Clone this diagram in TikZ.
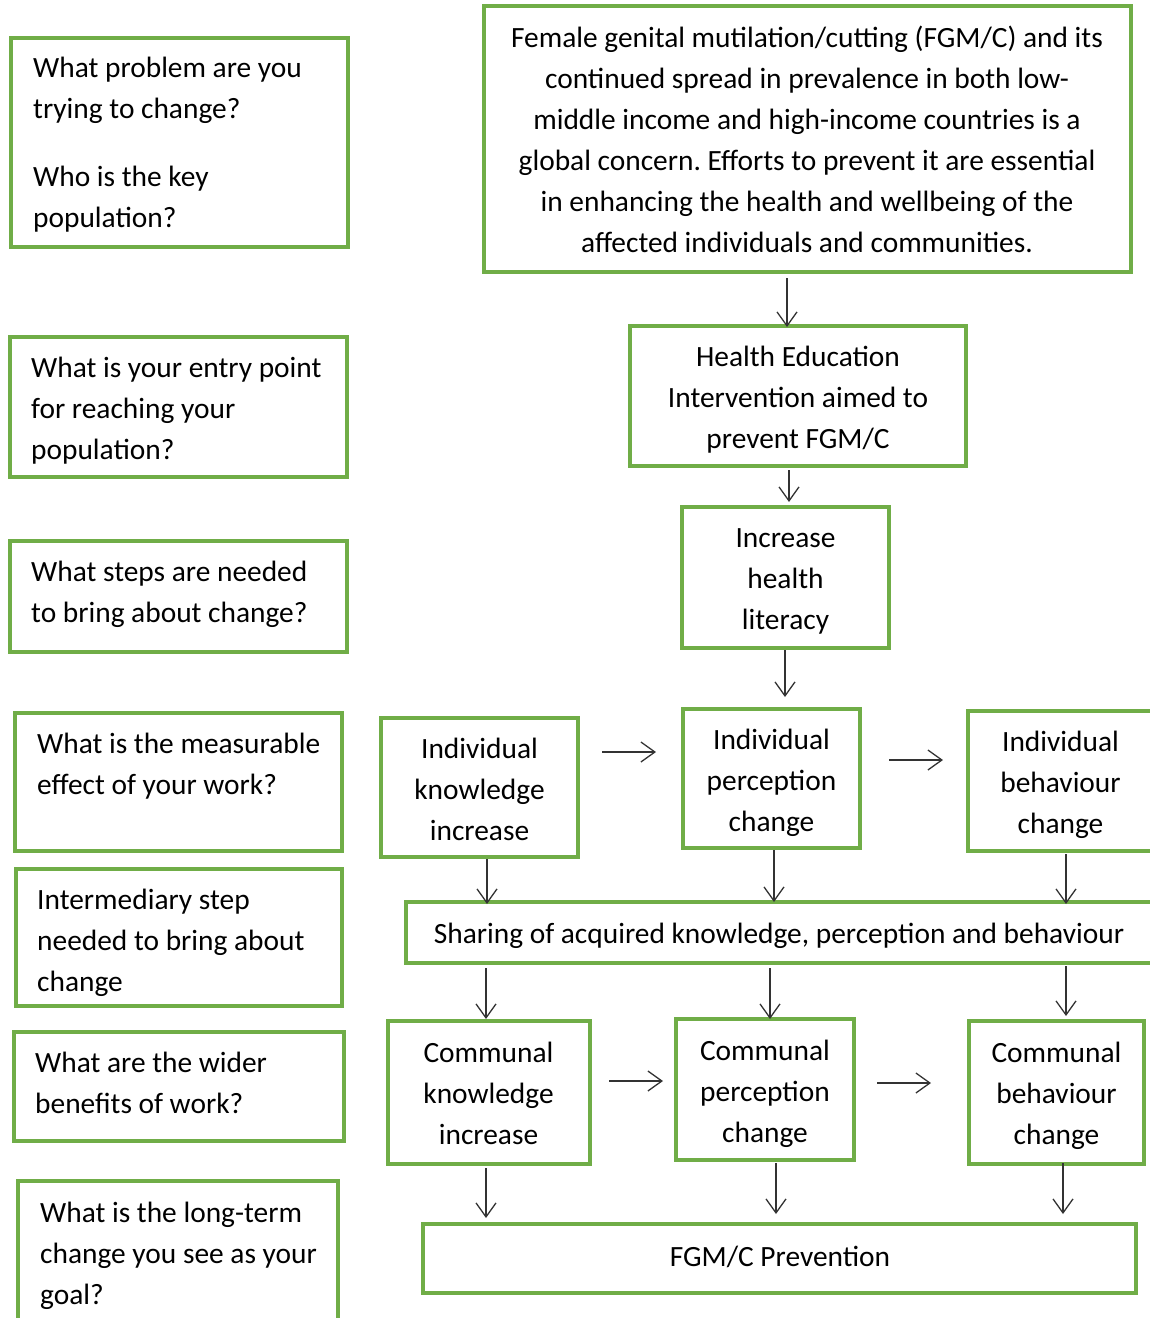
\documentclass[tikz,border=0pt]{standalone}
\usepackage{fontspec}
\setmainfont{Carlito}
\usetikzlibrary{arrows.meta}
\definecolor{fgreen}{HTML}{70AD47}
\newcommand\mainfnt{\fontsize{29.4}{41}\selectfont}
\frenchspacing
\begin{document}
\begin{tikzpicture}[x=1pt,y=-1pt,
  box/.style={draw=fgreen,line width=3.6pt,inner sep=0pt},
  btext/.style={inner sep=0pt,align=center,font=\mainfnt},
  qtext/.style={inner sep=0pt,align=left,anchor=west,font=\mainfnt},
  arr/.style={draw=black!80,line width=1.3pt,-{Straight Barb[length=14pt,width=20pt]}}]
\useasboundingbox (0,0) rectangle (1150,1318);
\clip (0,0) rectangle (1150,1318);
% left question boxes
\node[box,minimum width=337,minimum height=209] (q1) at (179.5,142.5) {};
\node[qtext] (q1t) at (33,145) {What problem are you\\trying to change?\\[27pt]Who is the key\\population?};
\node[box,minimum width=337,minimum height=140] (q2) at (178.5,407) {};
\node[qtext] (q2t) at (31,411) {What is your entry point\\for reaching your\\population?};
\node[box,minimum width=337,minimum height=111] (q3) at (178.5,596.5) {};
\node[qtext] (q3t) at (31,594.5) {What steps are needed\\to bring about change?};
\node[box,minimum width=327,minimum height=138] (q4) at (178.5,782) {};
\node[qtext] (q4t) at (37,766.5) {What is the measurable\\effect of your work?};
\node[box,minimum width=326,minimum height=137] (q5) at (179,937.5) {};
\node[qtext] (q5t) at (37,942.5) {Intermediary step\\needed to bring about\\change};
\node[box,minimum width=330,minimum height=109] (q6) at (179,1086.5) {};
\node[qtext] (q6t) at (35,1082.5) {What are the wider\\benefits of work?};
\node[box,minimum width=320,minimum height=142] (q7) at (178,1252) {};
\node[qtext] (q7t) at (40,1255.5) {What is the long-term\\change you see as your\\goal?};
% right flow boxes
\node[box,minimum width=647,minimum height=266] (top) at (807.5,139) {};
\node[btext] (topt) at (807,139) {Female genital mutilation/cutting (FGM/C) and its\\continued spread in prevalence in both low-\\middle income and high-income countries is a\\global concern. Efforts to prevent it are essential\\in enhancing the health and wellbeing of the\\affected individuals and communities.};
\node[box,minimum width=336,minimum height=140] (he) at (798,396) {};
\node[btext] (het) at (798,400) {Health Education\\Intervention aimed to\\prevent FGM/C};
\node[box,minimum width=207,minimum height=141] (hl) at (785.5,577.5) {};
\node[btext] (hlt) at (785.5,581.5) {Increase\\health\\literacy};
\node[box,minimum width=197,minimum height=139] (ik) at (479.5,787.5) {};
\node[btext] (ikt) at (479.5,789.5) {Individual\\knowledge\\increase};
\node[box,minimum width=177,minimum height=139] (ip) at (771.5,778.5) {};
\node[btext] (ipt) at (771.5,783) {Individual\\perception\\change};
\node[box,minimum width=185,minimum height=140] (ib) at (1060.5,781) {};
\node[btext] (ibt) at (1060.5,785) {Individual\\behaviour\\change};
\node[box,minimum width=747,minimum height=61] (sh) at (779.5,932.5) {};
\node[btext] (sht) at (779,935.5) {Sharing of acquired knowledge, perception and behaviour};
\node[box,minimum width=202,minimum height=143] (ck) at (489,1092.5) {};
\node[btext] (ckt) at (488.5,1093) {Communal\\knowledge\\increase};
\node[box,minimum width=178,minimum height=141] (cp) at (765,1089.5) {};
\node[btext] (cpt) at (765,1093.5) {Communal\\perception\\change};
\node[box,minimum width=175,minimum height=143] (cb) at (1056.5,1092.5) {};
\node[btext] (cbt) at (1056.5,1095.5) {Communal\\behaviour\\change};
\node[box,minimum width=713,minimum height=69] (fp) at (779.5,1258.5) {};
\node[btext] (fpt) at (780,1256.5) {FGM/C Prevention};
% arrow end points
\coordinate (a1s) at (787,278); \coordinate (a1e) at (787,327);
\coordinate (a2s) at (789,470); \coordinate (a2e) at (789,502);
\coordinate (a3s) at (785,650); \coordinate (a3e) at (785,697);
\coordinate (a4s) at (602,752); \coordinate (a4e) at (656,752);
\coordinate (a5s) at (889,760); \coordinate (a5e) at (943,760);
\coordinate (a6s) at (487,859); \coordinate (a6e) at (487,904);
\coordinate (a7s) at (774,850); \coordinate (a7e) at (774,902);
\coordinate (a8s) at (1066,854); \coordinate (a8e) at (1066,904);
\coordinate (a9s) at (486,968); \coordinate (a9e) at (486,1019);
\coordinate (a10s) at (770,968); \coordinate (a10e) at (770,1019);
\coordinate (a11s) at (1066,966); \coordinate (a11e) at (1066,1016);
\coordinate (a12s) at (609,1081); \coordinate (a12e) at (663,1081);
\coordinate (a13s) at (877,1083); \coordinate (a13e) at (931,1083);
\coordinate (a14s) at (486,1168); \coordinate (a14e) at (486,1218);
\coordinate (a15s) at (776,1163); \coordinate (a15e) at (776,1214);
\coordinate (a16s) at (1063,1163); \coordinate (a16e) at (1063,1214);
\foreach \i in {1,...,16} {\draw[arr] (a\i s) -- (a\i e);}
\end{tikzpicture}
\end{document}
